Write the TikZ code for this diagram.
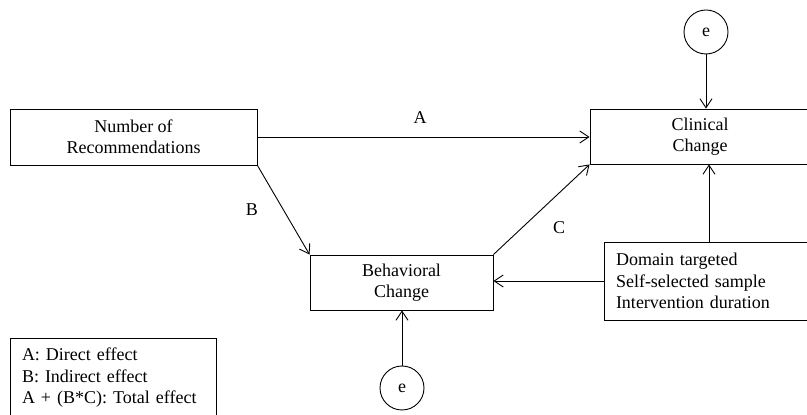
\documentclass[tikz,border=0pt]{standalone}
\usepackage{fontspec}
\setmainfont{Liberation Serif}
\usetikzlibrary{positioning, arrows.meta}

\begin{document}
\begin{tikzpicture}[x=1pt, y=1pt,
        box/.style={draw, line width=0.9pt, inner sep=0pt, align=center,
          font=\fontsize{18}{21.5}\selectfont},
        err/.style={draw, circle, line width=0.9pt, minimum size=44pt, inner sep=0pt,
          font=\fontsize{18}{21.5}\selectfont},
        lbl/.style={font=\fontsize{18}{21.5}\selectfont},
        path/.style={line width=0.9pt, -{Straight Barb[length=9pt, width=12pt]}}]
      \clip (0,0) rectangle (807,415);
      % Model boxes
      \node[box, minimum width=247pt, minimum height=56pt] (recs) at (133.5,278) {Number of\\Recommendations};
      \node[box, minimum width=220pt, minimum height=55pt] (clinical) at (700,278.5) {Clinical\\Change};
      \node[box, minimum width=183pt, minimum height=55pt] (behav) at (401.5,132.5) {Behavioral\\Change};
      \node[box, minimum width=210pt, minimum height=78pt, align=left, text width=186pt] (moder) at (709,134)
        {Domain targeted\\Self-selected sample\\Intervention duration};
      \node[box, minimum width=206pt, minimum height=80pt, align=left, text width=182pt] (legend) at (113,37)
        {A: Direct effect\\B: Indirect effect\\A + (B*C): Total effect};

      % Error terms
      \node[err] (etop) at (706,383) {e};
      \node[err] (ebot) at (402,27) {e};

      \draw[path] (recs.east) -- (recs.east -| clinical.west);
      \draw[path] (recs.south east) -- (behav.north west);
      \draw[path] (behav.north east) -- (clinical.south west);
      \draw[path] (moder.west) -- (moder.west -| behav.east);
      \draw[path] (moder.north) -- (moder.north |- clinical.south);
      \draw[path] (etop.south) -- (etop.south |- clinical.north);
      \draw[path] (ebot.north) -- (ebot.north |- behav.south);

      \node[lbl] (labA) at (420,297) {A};
      \node[lbl] (labB) at (252,205) {B};
      \node[lbl] (labC) at (559,187) {C};
    \end{tikzpicture}
\end{document}
